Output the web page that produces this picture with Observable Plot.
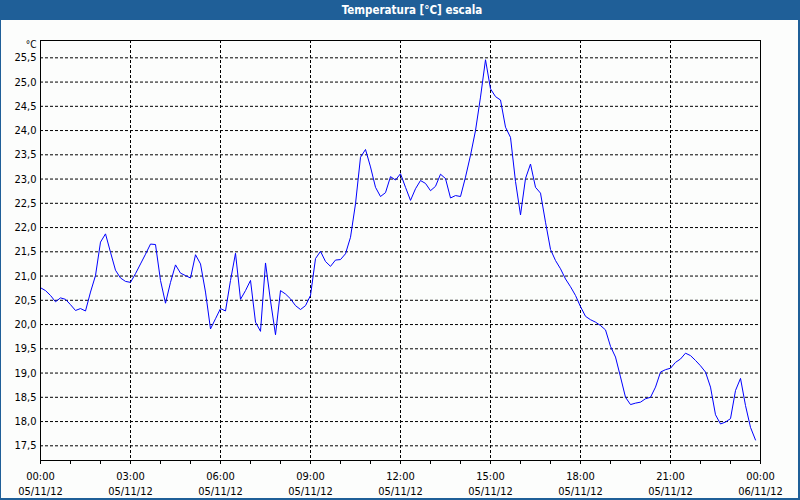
<!DOCTYPE html>
<html>
<head>
<meta charset="utf-8">
<script src="https://cdn.jsdelivr.net/npm/d3@7"></script>
<script src="https://cdn.jsdelivr.net/npm/@observablehq/plot@0.6"></script>
<style>
  html, body { margin: 0; padding: 0; background: #fcfdfc; }
  #win { position: relative; width: 800px; height: 500px; overflow: hidden; background: #fcfdfc;
         font-family: "DejaVu Sans Condensed", "Liberation Sans", sans-serif; }
  #title { position: absolute; left: 0; top: 0; width: 800px; height: 20px; background: #1f5f98;
           color: #ffffff; font-weight: bold; font-size: 11.5px; line-height: 20px; text-align: center; }
  #title span { position: relative; left: 12px; }
  #chart { position: absolute; left: 0; top: 20px; }
  #border { position: absolute; left: 0; top: 0; width: 800px; height: 500px; box-sizing: border-box;
            border-style: solid; border-color: #1f5f98; border-width: 0 2px 2px 1px; pointer-events: none; }
</style>
</head>
<body>
<div id="win">
  <div id="title"><span>Temperatura [°C] escala</span></div>
  <div id="chart"></div>
  <div id="border"></div>
</div>
<script>
// ---- data ----
const times = [
  "00:00","00:10","00:20","00:30","00:40","00:50",
  "01:00","01:10","01:20","01:30","01:40","01:50",
  "02:00","02:10","02:20","02:30","02:40","02:50",
  "03:00","03:10","03:20","03:30","03:40","03:50",
  "04:00","04:10","04:20","04:30","04:40","04:50",
  "05:00","05:10","05:20","05:30","05:40","05:50",
  "06:00","06:10","06:20","06:30","06:40","06:50",
  "07:00","07:10","07:20","07:30","07:40","07:50",
  "08:00","08:10","08:20","08:30","08:40","08:50",
  "09:00","09:10","09:20","09:30","09:40","09:50",
  "10:00","10:10","10:20","10:30","10:40","10:50",
  "11:00","11:10","11:20","11:30","11:40","11:50",
  "12:00","12:10","12:20","12:30","12:40","12:50",
  "13:00","13:10","13:20","13:30","13:40","13:50",
  "14:00","14:10","14:20","14:30","14:40","14:50",
  "15:00","15:10","15:20","15:30","15:40","15:50",
  "16:00","16:10","16:20","16:30","16:40","16:50",
  "17:00","17:10","17:20","17:30","17:40","17:50",
  "18:00","18:10","18:20","18:30","18:40","18:50",
  "19:00","19:10","19:20","19:30","19:40","19:50",
  "20:00","20:10","20:20","20:30","20:40","20:50",
  "21:00","21:10","21:20","21:30","21:40","21:50",
  "22:00","22:10","22:20","22:30","22:40","22:50",
  "23:00","23:10","23:20","23:30","23:40","23:50"
];
const temps = [
  20.76, 20.70, 20.60, 20.47, 20.55, 20.52,
  20.41, 20.29, 20.33, 20.28, 20.67, 21.01,
  21.70, 21.87, 21.49, 21.12, 20.96, 20.89,
  20.87, 21.05, 21.25, 21.45, 21.66, 21.65,
  20.91, 20.44, 20.87, 21.23, 21.06, 21.01,
  20.96, 21.44, 21.25, 20.67, 19.91, 20.12,
  20.33, 20.28, 20.91, 21.47, 20.52, 20.70,
  20.91, 20.05, 19.86, 21.27, 20.49, 19.79,
  20.70, 20.63, 20.53, 20.39, 20.31, 20.39,
  20.60, 21.36, 21.51, 21.30, 21.20, 21.33,
  21.34, 21.46, 21.80, 22.49, 23.45, 23.61,
  23.25, 22.83, 22.64, 22.72, 23.05, 22.98,
  23.11, 22.83, 22.56, 22.80, 22.97, 22.91,
  22.76, 22.85, 23.10, 23.01, 22.61, 22.66,
  22.64, 23.04, 23.49, 24.00, 24.69, 25.46,
  24.86, 24.70, 24.63, 24.07, 23.86, 22.95,
  22.26, 23.01, 23.31, 22.83, 22.71, 22.11,
  21.55, 21.32, 21.15, 20.94, 20.78, 20.60,
  20.37, 20.17, 20.10, 20.05, 19.98, 19.89,
  19.55, 19.33, 18.92, 18.50, 18.35, 18.38,
  18.40, 18.47, 18.50, 18.71, 19.02, 19.07,
  19.10, 19.22, 19.29, 19.41, 19.36, 19.26,
  19.15, 19.02, 18.71, 18.14, 17.95, 17.99,
  18.06, 18.64, 18.89, 18.33, 17.88, 17.62
];
const day = "2012-11-05";
const yTicks = [17.5, 18.0, 18.5, 19.0, 19.5, 20.0, 20.5, 21.0, 21.5, 22.0, 22.5, 23.0, 23.5, 24.0, 24.5, 25.0, 25.5];
const xMajorTicks = [
  "2012-11-05 00:00","2012-11-05 03:00","2012-11-05 06:00","2012-11-05 09:00",
  "2012-11-05 12:00","2012-11-05 15:00","2012-11-05 18:00","2012-11-05 21:00","2012-11-06 00:00"
];
const yDomain = [17.197, 25.857];
const unitLabel = "°C";

// ---- build ----
const parseDT = d3.timeParse("%Y-%m-%d %H:%M");
const data = times.map((t, i) => ({ time: parseDT(day + " " + t), temp: temps[i] }));
const xMajor = xMajorTicks.map(parseDT);
const xDomain = [xMajor[0], xMajor[xMajor.length - 1]];
const xMinor = d3.timeHour.range(xDomain[0], d3.timeHour.offset(xDomain[1], 1));
const fmtTime = d3.timeFormat("%H:%M");
const fmtDate = d3.timeFormat("%d/%m/%y");

const chart = Plot.plot({
  width: 800,
  height: 480,
  marginTop: 20,
  marginBottom: 40,
  marginLeft: 40,
  marginRight: 40,
  style: { background: "transparent", fontFamily: '"DejaVu Sans Condensed", "Liberation Sans", sans-serif', fontSize: "11px", color: "#000" },
  x: { type: "time", domain: xDomain },
  y: { domain: yDomain },
  marks: [
    Plot.gridY(yTicks, { stroke: "#000", strokeOpacity: 1, strokeDasharray: "3,2" }),
    Plot.gridX(xMajor.slice(1, -1), { stroke: "#000", strokeOpacity: 1, strokeDasharray: "3,2" }),
    Plot.line(data, { x: "time", y: "temp", stroke: "#0000ff", strokeWidth: 1 }),
    Plot.frame({ stroke: "#000", strokeWidth: 1 }),
    Plot.axisY(yTicks, { tickSize: 0, tickPadding: 4, tickFormat: d => d.toFixed(1).replace(".", ","), label: null }),
    Plot.axisX(xMinor, { tickSize: 4, tickFormat: () => "", label: null }),
    Plot.axisX(xMajor, { tickSize: 4, tickPadding: 5, lineHeight: 1.35, tickFormat: d => fmtTime(d) + "\n" + fmtDate(d), label: null }),
    Plot.text([unitLabel], { frameAnchor: "top-left", dx: -4, dy: 4, textAnchor: "end", lineAnchor: "middle", fontSize: 10 })
  ]
});
document.getElementById("chart").appendChild(chart);
</script>
</body>
</html>
